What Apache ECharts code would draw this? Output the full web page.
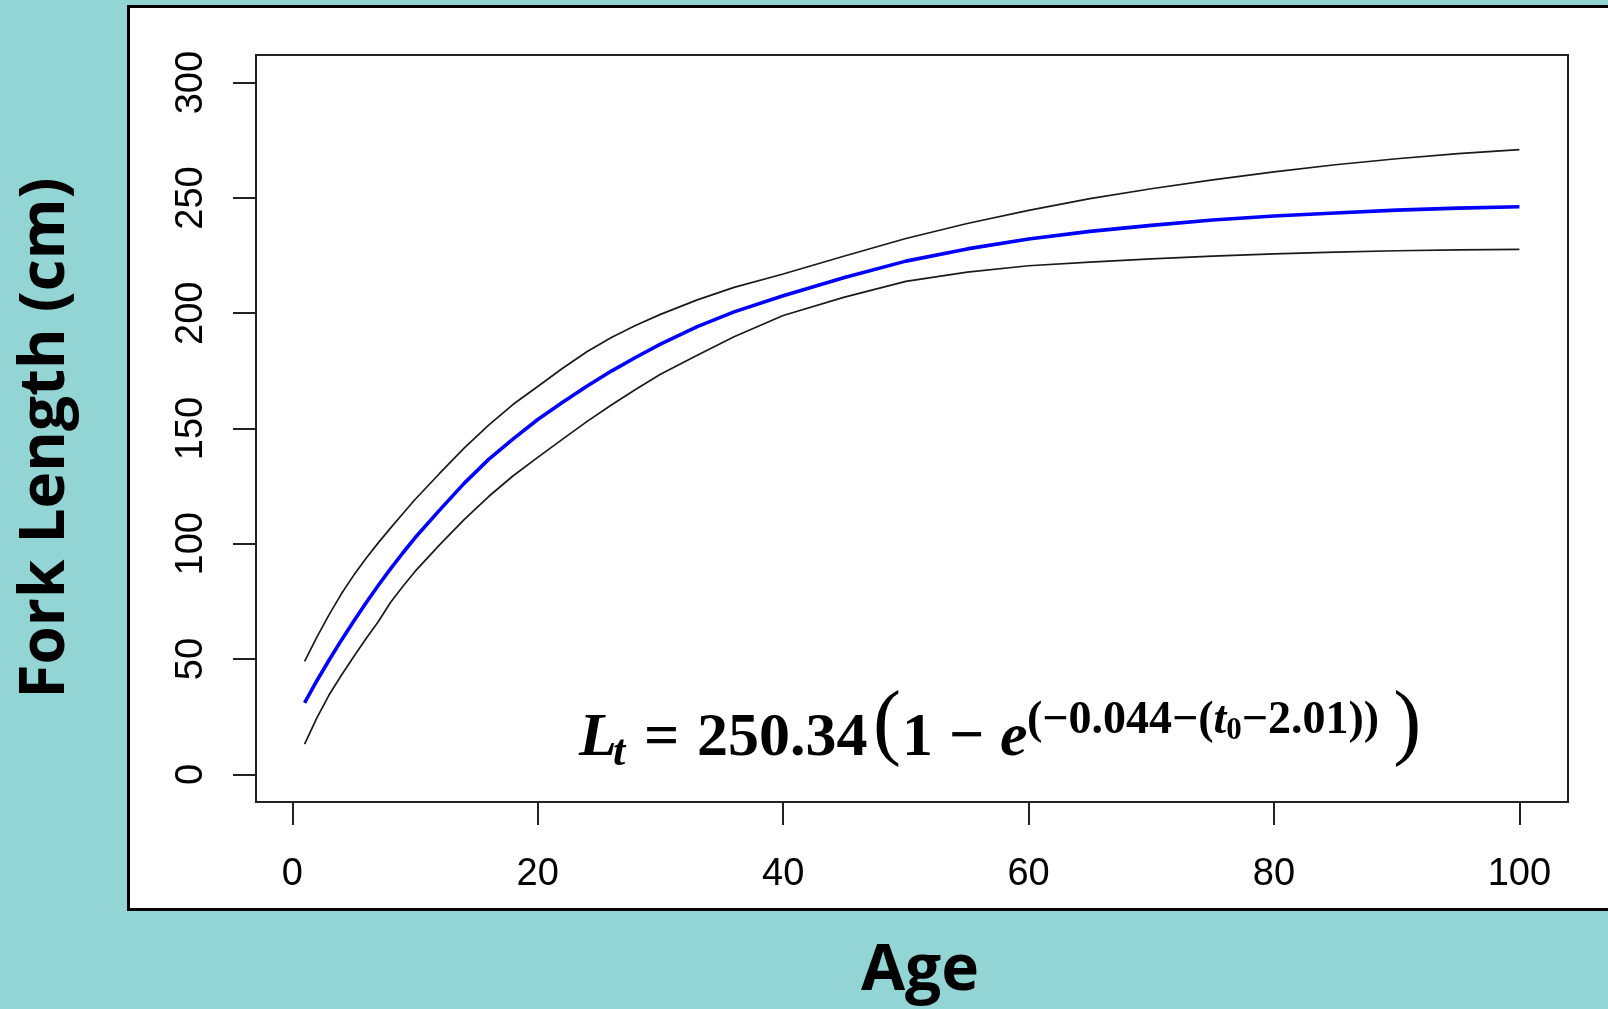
<!DOCTYPE html>
<html>
<head>
<meta charset="utf-8">
<title>Fork Length by Age</title>
<script src="https://cdn.jsdelivr.net/npm/echarts@6/dist/echarts.min.js"></script>
<style>
  html, body { margin: 0; padding: 0; background: #92D5D4; }
  #chart { width: 1608px; height: 1009px; }
</style>
</head>
<body>
<div id="chart"></div>
<script>
// Ages (years) at which the growth curve and its bounds are drawn
const ages = [1, 2, 3, 4, 5, 6, 7, 8, 9, 10, 12, 14, 16, 18, 20, 22, 24, 26, 28, 30,
              33, 36, 40, 45, 50, 55, 60, 65, 70, 75, 80, 85, 90, 95, 100];

// Fitted fork length (cm)
const fittedLength = [31.0, 40.6, 49.6, 58.2, 66.4, 74.3, 81.9, 89.1, 96.0, 102.6,
                      114.6, 126.2, 136.6, 145.5, 153.9, 161.3, 168.3, 174.9, 180.9, 186.6,
                      194.2, 200.6, 207.6, 215.5, 222.6, 227.9, 232.2, 235.5, 238.1, 240.4,
                      242.2, 243.5, 244.7, 245.6, 246.2];

// Upper bound (cm)
const upperBound = [49.0, 59.5, 69.3, 78.3, 86.3, 93.6, 100.4, 106.8, 113.0, 119.2,
                    130.5, 141.5, 151.5, 160.5, 168.2, 176.0, 183.3, 189.5, 194.8, 199.5,
                    205.8, 211.2, 217.0, 224.8, 232.4, 238.9, 244.6, 249.7, 254.0, 257.8,
                    261.3, 264.4, 267.0, 269.2, 271.0];

// Lower bound (cm)
const lowerBound = [13.1, 24.5, 34.5, 43.0, 51.0, 58.8, 66.2, 74.5, 81.5, 88.0,
                    99.5, 110.5, 120.5, 129.5, 137.5, 145.3, 153.0, 160.2, 167.0, 173.5,
                    181.8, 189.8, 199.0, 207.0, 213.8, 217.8, 220.6, 222.2, 223.6, 224.8,
                    225.7, 226.5, 227.1, 227.5, 227.7];

// Tick labels
const xTicks = [0, 20, 40, 60, 80, 100];
const yTicks = [0, 50, 100, 150, 200, 250, 300];

const pairs = (ys) => ages.map((a, i) => [a, ys[i]]);

// Text measuring for laying out the equation pieces side by side
const measureCtx = document.createElement('canvas').getContext('2d');
function textWidth(text, font) {
  measureCtx.font = font;
  return measureCtx.measureText(text).width;
}
function textEl(text, font, x, y, extra) {
  return Object.assign({
    type: 'text', z: 20,
    style: {
      x: x, y: y, text: text, font: font, fill: '#000',
      textAlign: 'left', textVerticalAlign: 'middle',
      align: 'left', verticalAlign: 'middle'
    }
  }, extra || {});
}

const serif = '"Liberation Serif", "DejaVu Serif", serif';
const mainBI = 'italic bold 62px ' + serif;
const mainB = 'bold 62px ' + serif;
const supB = 'bold 46px ' + serif;
const supBI = 'italic bold 46px ' + serif;
const subB = 'bold 31px ' + serif;
const subBI = 'italic bold 44px ' + serif;
const paren = 'normal 84px ' + serif;

const mainY = 739;
const supY = 721;

// Equation: L_t = 250.34(1 - e^(-0.044-(t0-2.01)))
const equation = [
  textEl('L', mainBI, 579, mainY),
  textEl('t', subBI, 613, 754),
  textEl('=', mainB, 644, mainY),
  textEl('250.34', mainB, 697, mainY),
  textEl('(', paren, 873, 727),
  textEl('1', mainB, 902, mainY),
  textEl('\u2212', mainB, 949, mainY),
  textEl('e', mainBI, 1000, mainY)
];
(function () {
  let x = 1027;
  const sup = [
    { t: '(\u22120.044\u2212(', f: supB, y: supY },
    { t: 't', f: supBI, y: supY },
    { t: '0', f: subB, y: supY + 10 },
    { t: '\u22122.01))', f: supB, y: supY }
  ];
  sup.forEach(p => {
    equation.push(textEl(p.t, p.f, x, p.y));
    x += textWidth(p.t, p.f);
  });
  equation.push(textEl(')', paren, x + 14, 727));
})();

const chart = echarts.init(document.getElementById('chart'));

chart.setOption({
  backgroundColor: '#92D5D4',
  animation: false,
  grid: {
    left: 256, right: 40, top: 55, bottom: 207,
    show: true, borderColor: '#222', borderWidth: 2,
    backgroundColor: 'transparent'
  },
  xAxis: {
    type: 'value',
    min: -2.96, max: 103.96,
    axisLine: { show: false, onZero: false },
    splitLine: { show: false },
    axisTick: {
      show: true, customValues: xTicks, length: 23,
      lineStyle: { color: '#222', width: 2 }
    },
    axisLabel: {
      customValues: xTicks,
      fontFamily: '"Liberation Sans", Arial, sans-serif',
      fontSize: 38, color: '#000', margin: 54
    }
  },
  yAxis: {
    type: 'value',
    min: -12, max: 312,
    axisLine: { show: false, onZero: false },
    splitLine: { show: false },
    axisTick: {
      show: true, customValues: yTicks, length: 23,
      lineStyle: { color: '#222', width: 2 }
    },
    axisLabel: {
      customValues: yTicks,
      rotate: 90,
      fontFamily: '"Liberation Sans", Arial, sans-serif',
      fontSize: 38, color: '#000', margin: 45
    }
  },
  graphic: [
    {
      type: 'rect', z: -10, silent: true,
      shape: { x: 128.5, y: 6.5, width: 1600, height: 903 },
      style: { fill: '#ffffff', stroke: '#000', lineWidth: 3 }
    },
    {
      type: 'text', z: 20,
      x: 46, y: 438, rotation: Math.PI / 2,
      style: {
        x: 0, y: 0, text: 'Fork Length (cm)',
        font: 'bold 62px "Open Sans", sans-serif', fill: '#000',
        textAlign: 'center', textVerticalAlign: 'middle',
        align: 'center', verticalAlign: 'middle'
      }
    },
    {
      type: 'text', z: 20,
      style: {
        x: 920, y: 972, text: 'Age',
        font: 'bold 64px "Open Sans", sans-serif', fill: '#000',
        textAlign: 'center', textVerticalAlign: 'middle',
        align: 'center', verticalAlign: 'middle'
      }
    }
  ].concat(equation),
  series: [
    {
      name: 'Upper', type: 'line', data: pairs(upperBound),
      showSymbol: false, smooth: false,
      lineStyle: { color: '#1a1a1a', width: 1.7 }, z: 3
    },
    {
      name: 'Lower', type: 'line', data: pairs(lowerBound),
      showSymbol: false, smooth: false,
      lineStyle: { color: '#1a1a1a', width: 1.7 }, z: 3
    },
    {
      name: 'Fitted', type: 'line', data: pairs(fittedLength),
      showSymbol: false, smooth: false,
      lineStyle: { color: '#0000ff', width: 3.6 }, z: 4
    }
  ]
});
</script>
</body>
</html>
